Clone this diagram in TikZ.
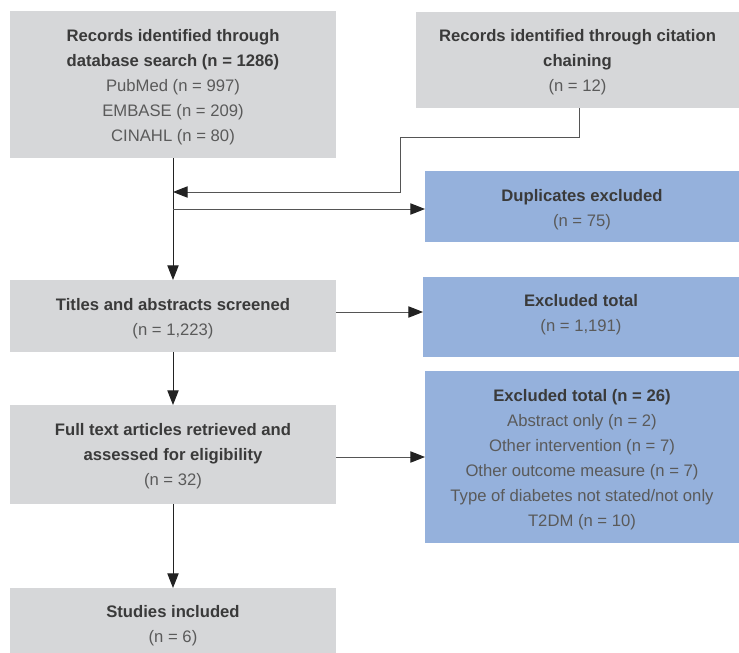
\documentclass[tikz,border=0pt]{standalone}
\usepackage{fontspec}
\setmainfont{Liberation Sans}
\usetikzlibrary{arrows.meta}
\definecolor{boxgray}{HTML}{D6D7D9}
\definecolor{boxblue}{HTML}{95B1DC}
\definecolor{txtbold}{HTML}{3A3A3A}
\definecolor{txtreg}{HTML}{5A5A5A}
\definecolor{lineA}{HTML}{222222}
\definecolor{lineB}{HTML}{555555}
\newcommand{\bt}[1]{{\bfseries\color{txtbold}#1}}
\begin{document}
\begin{tikzpicture}[x=0.75pt,y=-0.75pt,
  base/.style={inner sep=0pt,outer sep=0pt},
  graybox/.style={base,fill=boxgray},
  bluebox/.style={base,fill=boxblue},
  txt/.style={inner sep=0pt,align=center,text=txtreg,
    font=\fontsize{12.5pt}{18.75pt}\selectfont},
  conn/.style={draw=lineA,line width=0.75pt},
  hconn/.style={draw=lineB,line width=0.75pt},
  arr/.style={-{Triangle[length=11pt,width=8.5pt,color=lineA]}}]
\useasboundingbox (0,0) rectangle (739,653);
% boxes
\node[graybox,minimum width=326*0.75pt,minimum height=147*0.75pt] (db) at (173,84.5) {};
\node[graybox,minimum width=323*0.75pt,minimum height=96*0.75pt] (cit) at (577.5,60) {};
\node[bluebox,minimum width=314*0.75pt,minimum height=71*0.75pt] (dup) at (582,206.5) {};
\node[graybox,minimum width=326*0.75pt,minimum height=72*0.75pt] (ta) at (173,316) {};
\node[bluebox,minimum width=316*0.75pt,minimum height=80*0.75pt] (ex1) at (581,317) {};
\node[graybox,minimum width=326*0.75pt,minimum height=99*0.75pt] (ft) at (173,454.5) {};
\node[bluebox,minimum width=314*0.75pt,minimum height=172*0.75pt] (ex2) at (582,457) {};
\node[graybox,minimum width=326*0.75pt,minimum height=65*0.75pt] (si) at (173,620.5) {};
% texts
\node[txt] (db-t) at ([yshift=-2.25pt]db.center)
  {\bt{Records identified through}\\\bt{database search (n = 1286)}\\PubMed (n = 997)\\EMBASE (n = 209)\\CINAHL (n = 80)};
\node[txt] (cit-t) at ([yshift=-1.5pt]cit.center)
  {\bt{Records identified through citation}\\\bt{chaining}\\(n = 12)};
\node[txt] (dup-t) at ([yshift=-2.25pt]dup.center)
  {\bt{Duplicates excluded}\\(n = 75)};
\node[txt] (ta-t) at ([yshift=-2.25pt]ta.center)
  {\bt{Titles and abstracts screened}\\(n = 1,223)};
\node[txt] (ex1-t) at ([yshift=1.5pt]ex1.center)
  {\bt{Excluded total}\\(n = 1,191)};
\node[txt] (ft-t) at ([yshift=-1.5pt]ft.center)
  {\bt{Full text articles retrieved and}\\\bt{assessed for eligibility}\\(n = 32)};
\node[txt] (ex2-t) at ([yshift=-2.25pt]ex2.center)
  {\bt{Excluded total (n = 26)}\\Abstract only (n = 2)\\Other intervention (n = 7)\\Other outcome measure (n = 7)\\Type of diabetes not stated/not only\\T2DM (n = 10)};
\node[txt] (si-t) at ([yshift=-3.75pt]si.center)
  {\bt{Studies included}\\(n = 6)};
% connectors
\coordinate (j1) at (173,192);
\coordinate (j2) at (173,209);
\coordinate (c1) at (579,137);
\coordinate (c2) at (400,137);
\coordinate (c3) at (400,192);
\draw[conn,arr] (db.south) -- (ta.north);
\draw[hconn,arr] (cit.south -| c1) -- (c1) -- (c2) -- (c3) -- (j1);
\draw[hconn,arr] (j2) -- (dup.west |- j2);
\draw[hconn,arr] (ta.east |- 0,312) -- (ex1.west |- 0,312);
\draw[conn,arr] (ta.south) -- (ft.north);
\draw[hconn,arr] (ft.east |- 0,457) -- (ex2.west |- 0,457);
\draw[conn,arr] (ft.south) -- (si.north);
\end{tikzpicture}
\end{document}
